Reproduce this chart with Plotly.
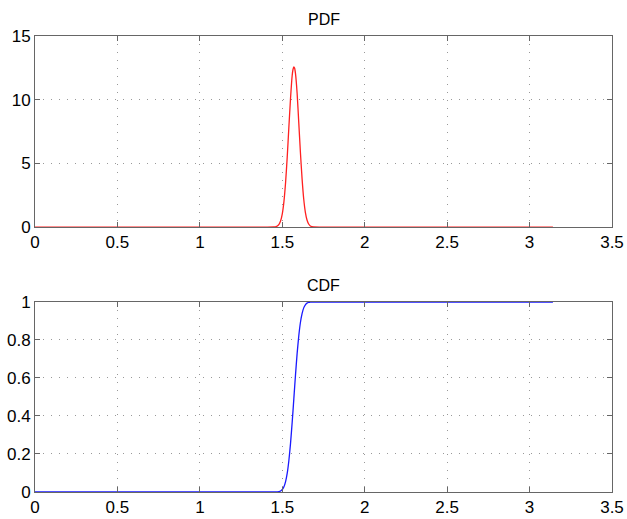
import plotly.graph_objects as go
from plotly.subplots import make_subplots

# Values
pdf_x = [0.0, 1.40, 1.45, 1.46, 1.47, 1.48, 1.49, 1.50, 1.51, 1.52, 1.53, 1.54, 1.55, 1.56, 1.565, 1.57,
         1.575, 1.58, 1.59, 1.60, 1.61, 1.62, 1.63, 1.64, 1.65, 1.66, 1.67, 1.69, 1.75, 3.1416]
pdf_y = [0.0, 0.0, 0.009, 0.028, 0.08, 0.21, 0.49, 1.04, 2.0, 3.5, 5.5, 7.85, 10.1, 11.9, 12.37, 12.58,
         12.47, 12.06, 10.5, 8.2, 5.85, 3.8, 2.2, 1.16, 0.55, 0.24, 0.09, 0.01, 0.0, 0.0]

cdf_x = [0.0, 1.40, 1.45, 1.46, 1.47, 1.48, 1.49, 1.50, 1.51, 1.52, 1.53, 1.54, 1.55, 1.56, 1.565, 1.57,
         1.575, 1.58, 1.59, 1.60, 1.61, 1.62, 1.63, 1.64, 1.65, 1.66, 1.67, 1.69, 1.75, 3.1416]
cdf_y = [0.0, 0.0, 0.0001, 0.0002, 0.0007, 0.002, 0.0054, 0.013, 0.0276, 0.055, 0.099, 0.166, 0.256,
         0.367, 0.427, 0.49, 0.553, 0.614, 0.728, 0.821, 0.892, 0.939, 0.969, 0.985, 0.994, 0.9975,
         0.9991, 0.9999, 1.0, 1.0]

x_ticks = [0, 0.5, 1, 1.5, 2, 2.5, 3, 3.5]
x_ticklabels = ["0", "0.5", "1", "1.5", "2", "2.5", "3", "3.5"]
pdf_yticks = [0, 5, 10, 15]
cdf_yticks = [0, 0.2, 0.4, 0.6, 0.8, 1]
cdf_yticklabels = ["0", "0.2", "0.4", "0.6", "0.8", "1"]
titles = ["PDF", "CDF"]

FONT = "Liberation Sans, Arial, sans-serif"

fig = make_subplots(rows=2, cols=1)
fig.add_trace(go.Scatter(x=pdf_x, y=pdf_y, mode="lines",
                         line=dict(color="#ff2020", width=1.3, shape="spline", smoothing=0.5)), row=1, col=1)
fig.add_trace(go.Scatter(x=cdf_x, y=cdf_y, mode="lines",
                         line=dict(color="#1a1aff", width=1.3, shape="spline", smoothing=0.5)), row=2, col=1)

axis_common = dict(
    showline=True, linecolor="#666", linewidth=1, mirror="ticks",
    ticks="inside", ticklen=5, tickcolor="#666",
    showgrid=True, gridcolor="#999", griddash="1px,7px", gridwidth=1,
    zeroline=False, automargin=False,
    tickfont=dict(family=FONT, size=17, color="black"),
)

fig.update_xaxes(range=[0, 3.5], tickvals=x_ticks, ticktext=x_ticklabels, **axis_common)
fig.update_yaxes(**axis_common)
fig.update_yaxes(range=[0, 15], tickvals=pdf_yticks, row=1, col=1)
fig.update_yaxes(range=[0, 1], tickvals=cdf_yticks, ticktext=cdf_yticklabels, row=2, col=1)

fig.update_layout(
    width=627, height=519,
    margin=dict(l=35, r=15, t=36, b=27),
    plot_bgcolor="white", paper_bgcolor="white",
    showlegend=False,
    xaxis=dict(domain=[0, 1]), yaxis=dict(domain=[0.581, 1.0]),
    xaxis2=dict(domain=[0, 1]), yaxis2=dict(domain=[0.0, 0.4167]),
    font=dict(family=FONT, size=16, color="black"),
    annotations=[
        dict(text=titles[0], x=0.5, y=1.0, xref="paper", yref="paper", yanchor="bottom", yshift=6,
             showarrow=False, font=dict(size=16)),
        dict(text=titles[1], x=0.5, y=0.4167, xref="paper", yref="paper", yanchor="bottom", yshift=6,
             showarrow=False, font=dict(size=16)),
    ],
)

fig.write_html("out.html", config={"displayModeBar": False},
               post_script="document.body.style.margin='0';document.body.style.overflow='hidden';")
